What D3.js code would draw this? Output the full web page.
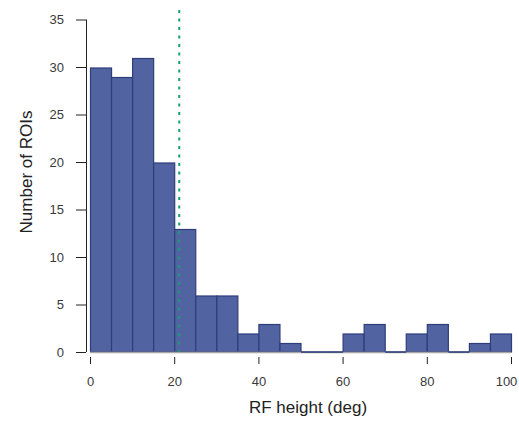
<!DOCTYPE html>
<html>
<head>
<meta charset="utf-8">
<script src="https://cdn.jsdelivr.net/npm/d3@7"></script>
<style>
  body { margin: 0; background: #fff; }
  svg { display: block; font-family: "Liberation Sans", Arial, sans-serif; }
</style>
</head>
<body>
<svg id="chart" width="519" height="431"></svg>
<script>
// Data
const binStarts = [0, 5, 10, 15, 20, 25, 30, 35, 40, 45, 50, 55, 60, 65, 70, 75, 80, 85, 90, 95];
const binWidth = 5;
const counts = [30, 29, 31, 20, 13, 6, 6, 2, 3, 1, 0, 0, 2, 3, 0, 2, 3, 0, 1, 2];
const xTicks = [0, 20, 40, 60, 80, 100];
const yTicks = [0, 5, 10, 15, 20, 25, 30, 35];
const thresholdValue = 21.2;

const svg = d3.select("#chart");
const x = d3.scaleLinear().domain([0, 100]).range([90, 511]);
const y = d3.scaleLinear().domain([0, 35]).range([352, 19.5]);

const fill = "#5263a2";
const stroke = "#2f3d79";
const bins = binStarts.map((s, i) => ({ s, c: counts[i] }));

// Bars
svg.append("g").selectAll("rect")
  .data(bins.filter(d => d.c > 0))
  .join("rect")
  .attr("x", d => x(d.s) + 0.5)
  .attr("width", d => x(d.s + binWidth) - x(d.s))
  .attr("y", d => y(d.c) + 1)
  .attr("height", d => y(0) - y(d.c) - 1)
  .attr("fill", fill)
  .attr("stroke", stroke)
  .attr("stroke-width", 1.2);

// Gray baseline
svg.append("line")
  .attr("x1", x(0)).attr("x2", x(100))
  .attr("y1", y(0) + 0.5).attr("y2", y(0) + 0.5)
  .attr("stroke", "#a8a8a8").attr("stroke-width", 1.5);

// Zero-count bins drawn as a dark flat line
svg.append("g").selectAll("line")
  .data(bins.filter(d => d.c === 0))
  .join("line")
  .attr("x1", d => x(d.s) + 0.5)
  .attr("x2", d => x(d.s + binWidth) + 0.5)
  .attr("y1", y(0)).attr("y2", y(0))
  .attr("stroke", stroke).attr("stroke-width", 1.6);

// Threshold dotted line
svg.append("line")
  .attr("x1", x(thresholdValue)).attr("x2", x(thresholdValue))
  .attr("y1", 10).attr("y2", y(0))
  .attr("stroke", "#17a06c").attr("stroke-width", 2)
  .attr("stroke-dasharray", "3,5.5");

// Y axis
const yAxis = d3.axisLeft(y).tickValues(yTicks).tickSize(10).tickPadding(12);
const gy = svg.append("g").attr("transform", "translate(86,0)").call(yAxis);
gy.select(".domain").attr("d", `M0.5,${y(35)}V${y(0)}`).attr("stroke", "#222");
gy.selectAll(".tick line").attr("stroke", "#222");
gy.selectAll(".tick text").attr("font-size", 13).attr("fill", "#3a3a3a")
  .attr("font-family", "Liberation Sans, Arial, sans-serif");

// X axis (ticks only)
const xAxis = d3.axisBottom(x).tickValues(xTicks).tickSize(7).tickPadding(13);
const gx = svg.append("g").attr("transform", "translate(0,357)").call(xAxis);
gx.select(".domain").remove();
gx.selectAll(".tick line").attr("stroke", "#222");
gx.selectAll(".tick text").attr("font-size", 13).attr("fill", "#3a3a3a")
  .attr("font-family", "Liberation Sans, Arial, sans-serif")
  .attr("dx", d => d === 100 ? -5 : 0);

// Axis titles
svg.append("text")
  .attr("x", 308).attr("y", 413)
  .attr("text-anchor", "middle")
  .attr("font-size", 17).attr("fill", "#222")
  .text("RF height (deg)");

svg.append("text")
  .attr("transform", "translate(32,172) rotate(-90)")
  .attr("text-anchor", "middle")
  .attr("font-size", 17).attr("fill", "#222")
  .text("Number of ROIs");
</script>
</body>
</html>
